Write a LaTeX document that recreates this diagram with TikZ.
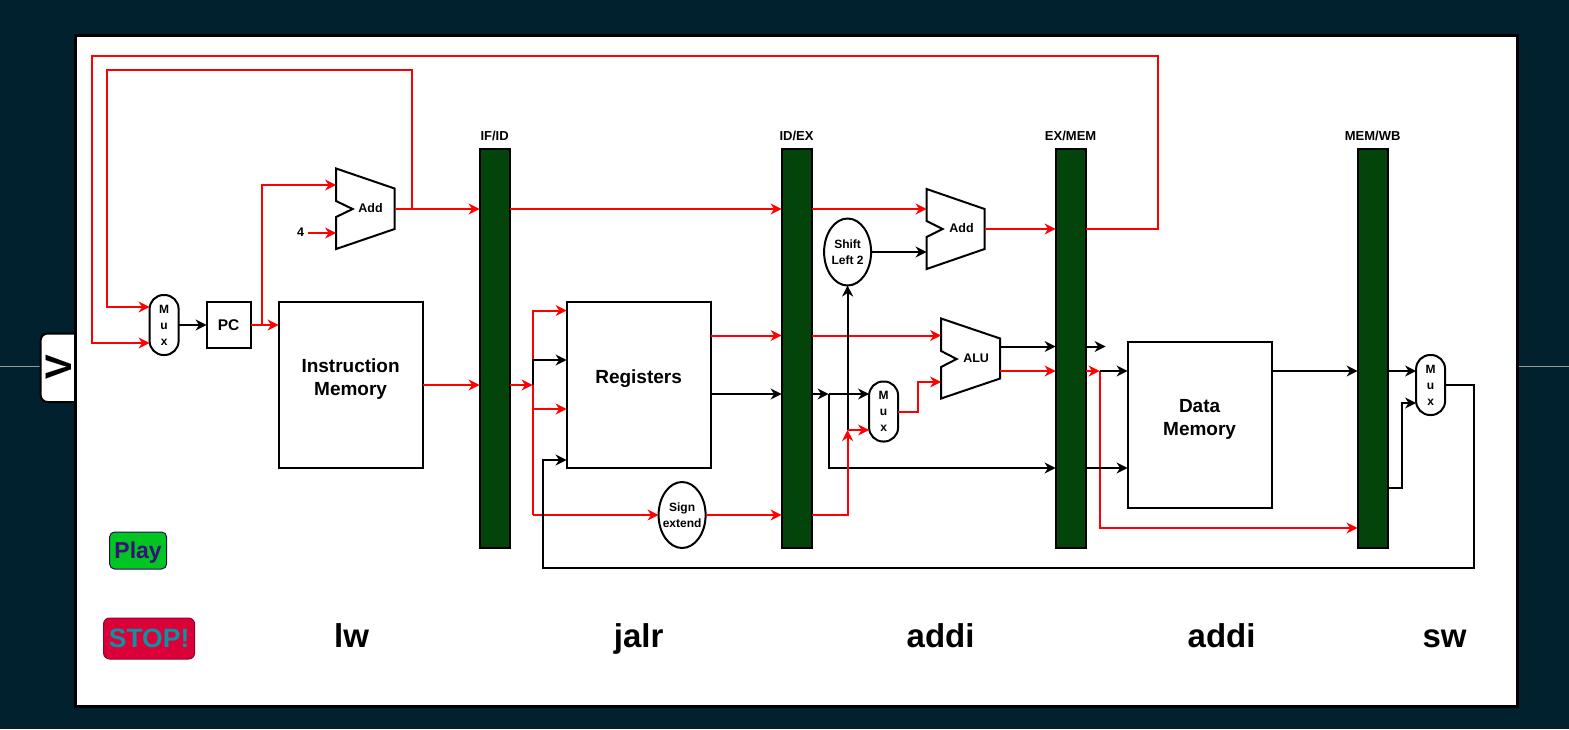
\documentclass[tikz,border=0pt]{standalone}
\usepackage{fontspec}
\setmainfont{Liberation Sans}
\usetikzlibrary{arrows.meta,shapes.geometric}
\definecolor{pagebg}{HTML}{02212E}
\definecolor{bargreen}{HTML}{03440A}
\definecolor{wirered}{HTML}{FF0000}
\definecolor{playfill}{HTML}{00C522}
\definecolor{playtext}{HTML}{3A0F78}
\definecolor{stopfill}{HTML}{DC0038}
\definecolor{stoptext}{HTML}{0B93A5}
\tikzset{
  >={Stealth[length=11pt,width=11pt,inset=3.5pt]},
  every node/.style={outer sep=0pt,inner sep=0pt},
  wire/.style={draw=black,line width=2pt},
  rwire/.style={draw=wirered,line width=2pt},
  unit/.style={draw=black,line width=2pt,fill=white},
  ffs/.style={font=\fontsize{#1}{23}\selectfont\bfseries},
  box/.style={unit,rectangle,align=center,ffs=19},
  muxbox/.style={unit,rectangle,rounded corners=14pt,minimum width=29pt,minimum height=60pt,align=center,font=\fontsize{12}{16}\selectfont\bfseries},
  oval/.style={unit,ellipse},
  ovaltext/.style={align=center,font=\fontsize{12}{15.5}\selectfont\bfseries},
  pipebar/.style={rectangle,draw=black,line width=2pt,fill=bargreen,minimum width=30pt,minimum height=399pt},
  barlabel/.style={font=\fontsize{13}{15}\selectfont\bfseries},
  alulabel/.style={font=\fontsize{12.5}{15}\selectfont\bfseries},
  instr/.style={anchor=base,font=\fontsize{33}{38}\selectfont\bfseries},
}
\begin{document}
\begin{tikzpicture}[x=1pt,y=-1pt]
\useasboundingbox (-0.6,0) rectangle (1568.4,729);
\fill[pagebg] (-1,0) rectangle (1569,729);
\draw[gray!80,line width=1pt] (-1,366.5) -- (40,366.5) (1518,366.5) -- (1569,366.5);
% side tab
\draw[black,line width=2pt,fill=white,rounded corners=7pt] (78,333.5) -- (40,333.5) -- (40,402) -- (78,402);
\node[rotate=90,font=\fontsize{37}{40}\selectfont\bfseries] (tab) at (58,367.5) {V};
% card
\draw[black,line width=3pt,fill=white] (75,35.5) rectangle (1517,706);

% pipeline bars
\node[pipebar] (ifid) at (494,348.5) {};
\node[pipebar] (idex) at (796,348.5) {};
\node[pipebar] (exmem) at (1070,348.5) {};
\node[pipebar] (memwb) at (1372,348.5) {};
\node[barlabel] (ifidl) at (494,135.5) {IF/ID};
\node[barlabel] (idexl) at (796,135.5) {ID/EX};
\node[barlabel] (exmeml) at (1070,135.5) {EX/MEM};
\node[barlabel] (memwbl) at (1372,135.5) {MEM/WB};

% units
\node[muxbox] (muxa) at (163.5,325) {M\\u\\x};
\node[muxbox] (muxb) at (883,411.5) {M\\u\\x};
\node[muxbox] (muxc) at (1430,385) {M\\u\\x};
\node[box,minimum width=44pt,minimum height=46pt,ffs=15.5] (pc) at (228,325) {PC};
\node[box,minimum width=144pt,minimum height=166pt] (imem) at (350,385) {};
\node[align=center,ffs=19] (imeml) at (350,379.5) {Instruction\\Memory};
\node[box,minimum width=144pt,minimum height=166pt] (regs) at (638,385) {};
\node[ffs=19] (regsl) at (638,379) {Registers};
\node[box,minimum width=144pt,minimum height=166pt] (dmem) at (1199,425) {};
\node[align=center,ffs=19] (dmeml) at (1199,419) {Data\\Memory};
\node[oval,minimum width=47pt,minimum height=66pt] (sign) at (681.5,515) {};
\node[ovaltext] (signl) at (681.5,515) {Sign\\extend};
\node[oval,minimum width=47pt,minimum height=67pt] (shift) at (847,252) {};
\node[ovaltext] (shiftl) at (847,252) {Shift\\Left 2};

% adders and ALU
\draw[unit,line join=miter] (335.5,168.5) -- (394,188.5) -- (394,229) -- (335.5,249) -- (335.5,217) -- (352,209) -- (335.5,201) -- cycle;
\node[alulabel] (addal) at (370,208.5) {Add};
\draw[unit,line join=miter] (926,189) -- (984,209) -- (984,249) -- (926,269) -- (926,237) -- (942,229) -- (926,221) -- cycle;
\node[alulabel] (addbl) at (961,228.5) {Add};
\draw[unit,line join=miter] (940.5,318.5) -- (999.5,338.5) -- (999.5,378.5) -- (940.5,398.5) -- (940.5,367) -- (956,359) -- (940.5,351) -- cycle;
\node[alulabel] (alul) at (975.5,358.5) {ALU};
\node[alulabel] (four) at (300,232.5) {4};

\coordinate (addaout) at (394,209);
\coordinate (addaina) at (335.5,185);
\coordinate (addainb) at (335.5,233);
\coordinate (addbout) at (984,229);
\coordinate (addbina) at (926,209);
\coordinate (addbinb) at (926,252);
\coordinate (aluouta) at (999.5,346.5);
\coordinate (aluoutb) at (999.5,371);
\coordinate (aluina) at (940.5,335.5);
\coordinate (aluinb) at (940.5,382);
\coordinate (fork) at (532,385);
\coordinate (jdx) at (847,430);
\coordinate (fwd) at (828,394);
\coordinate (memfork) at (1099,371);

% red wires
\draw[rwire,->] (exmem.east |- 0,229) -- (1157,229) -- (1157,56) -- (91.5,56) -- (91.5,343) -- (muxa.west |- 0,343);
\draw[rwire,->] (411,209) -- (411,69.5) -- (106,69.5) -- (106,307) -- (muxa.west |- 0,307);
\draw[rwire,->] (addaout) -- (ifid.west |- addaout);
\draw[rwire,->] (pc.east) -- (imem.west |- pc.east);
\draw[rwire,->] (261,325) -- (261,185) -- (addaina);
\draw[rwire,->] (307,233) -- (addainb);
\draw[rwire,->] (imem.east) -- (ifid.west |- imem.east);
\draw[rwire,->] (ifid.east |- fork) -- (fork);
\draw[rwire,->] (fork) -- (532,310.5) -- (regs.west |- 0,310.5);
\draw[rwire,->] (532,409) -- (regs.west |- 0,409);
\draw[rwire] (fork) -- (532,515);
\draw[rwire,->] (532,515) -- (sign.west);
\draw[rwire,->] (regs.east |- 0,335.5) -- (idex.west |- 0,335.5);
\draw[rwire,->] (sign.east) -- (idex.west |- sign.east);
\draw[rwire,->] (ifid.east |- 0,209) -- (idex.west |- 0,209);
\draw[rwire,->] (idex.east |- 0,209) -- (addbina);
\draw[rwire,->] (idex.east |- 0,335.5) -- (aluina);
\draw[rwire,->] (addbout) -- (exmem.west |- addbout);
\draw[rwire,->] (muxb.east) -- (917.5,411.5) -- (917.5,382) -- (aluinb);
\draw[rwire,->] (aluoutb) -- (exmem.west |- aluoutb);
\draw[rwire,->] (memfork) -- (1099,528) -- (memwb.west |- 0,528);

% black wires
\draw[wire,->] (muxa.east) -- (pc.west);
\draw[wire,->] (532,385) -- (532,360) -- (regs.west |- 0,360);
\draw[wire,->] (regs.east |- 0,394) -- (idex.west |- 0,394);
\draw[wire,->] (shift.east) -- (addbinb);
\draw[wire,->] (jdx) -- (shift.south);
\draw[wire,->] (idex.east |- fwd) -- (fwd);
\draw[wire,->] (fwd) -- (muxb.west |- fwd);
\draw[wire,->] (fwd) -- (828,468) -- (exmem.west |- 0,468);
\draw[wire,->] (aluouta) -- (exmem.west |- aluouta);
\draw[wire,->] (exmem.east |- aluouta) -- (1105,346.5);
\draw[wire,->] (memfork) -- (dmem.west |- memfork);
\draw[wire,->] (exmem.east |- 0,468) -- (dmem.west |- 0,468);
\draw[wire,->] (dmem.east |- 0,371) -- (memwb.west |- 0,371);
\draw[wire,->] (memwb.east |- 0,371) -- (muxc.west |- 0,371);
\draw[wire,->] (memwb.east |- 0,488) -- (1401.5,488) -- (1401.5,403) -- (muxc.west |- 0,403);
\draw[wire,->] (muxc.east) -- (1473,385) -- (1473,568) -- (542,568) -- (542,460) -- (regs.west |- 0,460);

% red stubs drawn over black
\draw[rwire,->] (exmem.east |- memfork) -- (memfork);
\draw[rwire,->] (idex.east |- 0,515) -- (847,515) -- (jdx);
\draw[rwire,->] (jdx) -- (muxb.west |- jdx);

% buttons
\node[rectangle,draw=playtext!70!black,line width=1pt,fill=playfill,rounded corners=5pt,minimum width=57pt,minimum height=37pt] (play) at (137.5,550.5) {};
\node[anchor=base,text=playtext,font=\fontsize{23}{26}\selectfont\bfseries] (playl) at (137.5,558.5) {Play};
\node[rectangle,draw=stopfill!70!black,line width=1pt,fill=stopfill,rounded corners=6pt,minimum width=91pt,minimum height=41pt] (stop) at (148.5,638.5) {};
\node[anchor=base,text=stoptext,font=\fontsize{26.5}{30}\selectfont\bfseries] (stopl) at (148.5,647) {STOP!};

% instruction labels
\node[instr] (ia) at (351,647) {lw};
\node[instr] (ib) at (638,647) {jalr};
\node[instr] (ic) at (940,647) {addi};
\node[instr] (id) at (1221,647) {addi};
\node[instr] (ie) at (1444,647) {sw};
\end{tikzpicture}
\end{document}
